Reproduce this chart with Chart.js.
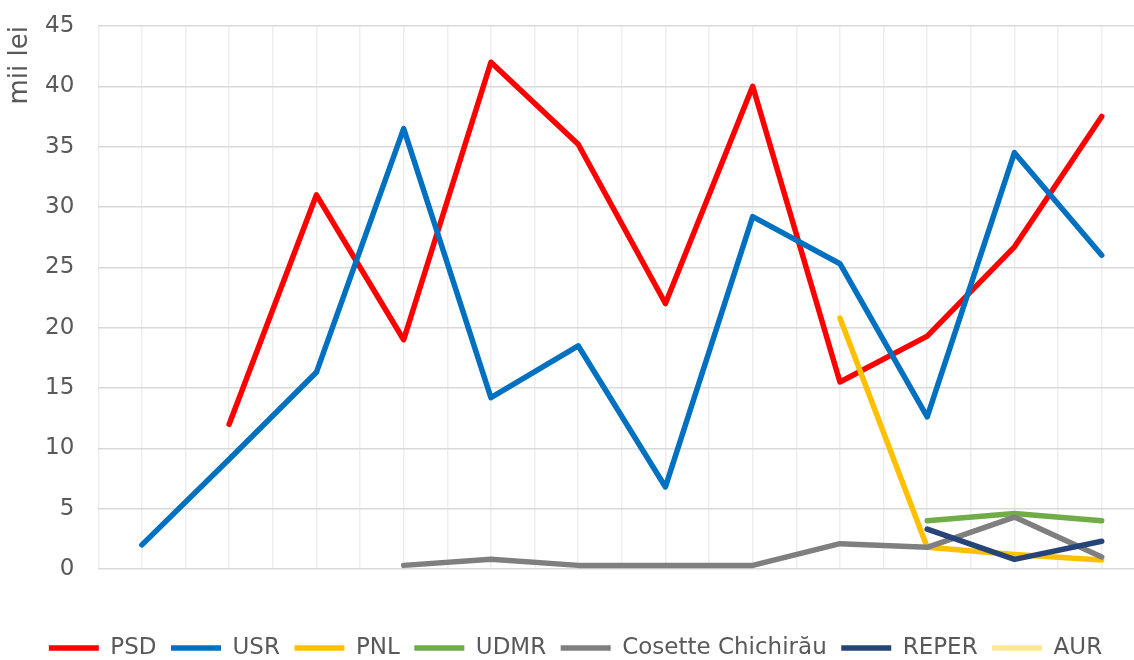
<!DOCTYPE html>
<html>
<head>
<meta charset="utf-8">
<script src="https://cdn.jsdelivr.net/npm/chart.js@4/dist/chart.umd.min.js"></script>
<style>
  html, body { margin: 0; padding: 0; background: #fff; overflow: hidden; }
  #wrap { width: 1134px; height: 660px; }
</style>
</head>
<body>
<div id="wrap"><canvas id="grafic"></canvas></div>
<script>
// ── Date ──────────────────────────────────────
const categorii = [0, 1, 2, 3, 4, 5, 6, 7, 8, 9, 10, 11]
const yTicks    = [0, 5, 10, 15, 20, 25, 30, 35, 40, 45]

const psd     = [null, 12.0, 31.0, 19.0, 42.0, 35.2, 22.0, 40.0, 15.5, 19.3, 26.7, 37.5]
const usr     = [2.0, 9.1, 16.3, 36.5, 14.2, 18.5, 6.8, 29.2, 25.3, 12.6, 34.5, 26.0]
const pnl     = [null, null, null, null, null, null, null, null, 20.8, 1.8, 1.2, 0.75]
const udmr    = [null, null, null, null, null, null, null, null, null, 4.0, 4.6, 4.0]
const cosette = [null, null, null, 0.3, 0.8, 0.3, 0.3, 0.3, 2.1, 1.8, 4.3, 1.0]
const reper   = [null, null, null, null, null, null, null, null, null, 3.3, 0.8, 2.3]
const aur     = [null, null, null, null, null, null, null, null, null, null, null, null]

const serii = [
  { nume: 'PSD', valori: psd, culoare: '#FF0000' },
  { nume: 'USR', valori: usr, culoare: '#0070C0' },
  { nume: 'PNL', valori: pnl, culoare: '#FFC000' },
  { nume: 'UDMR', valori: udmr, culoare: '#70AD47' },
  { nume: 'Cosette Chichirău', valori: cosette, culoare: '#7F7F7F' },
  { nume: 'REPER', valori: reper, culoare: '#264478' },
  { nume: 'AUR', valori: aur, culoare: '#FFE699' }
]

// ── Temă ──────────────────────────────────────
Chart.defaults.color       = '#595959'
Chart.defaults.font.family = "'DejaVu Sans', Verdana, sans-serif"
Chart.defaults.font.size   = 23

const datasets = serii.map((s, i) => ({
  label: s.nume,
  data: categorii.map((c, j) => ({ x: c, y: s.valori[j] })),
  borderColor: s.culoare,
  backgroundColor: s.culoare,
  borderWidth: 5.5,
  borderCapStyle: 'round',
  borderJoinStyle: 'round',
  pointRadius: 0,
  pointHoverRadius: 0,
  tension: 0,
  spanGaps: false,
  order: -i   // seriile de mai tarziu deasupra, ca in Excel
}))

new Chart(document.getElementById('grafic'), {
  type: 'line',
  data: { datasets },
  options: {
    responsive: true,
    maintainAspectRatio: false,
    animation: false,
    layout: { padding: { left: 17, right: 0, top: 26, bottom: 0 } },
    plugins: {
      legend: {
        position: 'bottom',
        maxHeight: 38,
        labels: {
          usePointStyle: true,
          pointStyle: 'line',
          pointStyleWidth: 50,
          padding: 14.5,
          color: '#595959',
          font: { size: 23 },
          sort: (a, b) => a.datasetIndex - b.datasetIndex
        }
      },
      tooltip: { enabled: false }
    },
    scales: {
      x: {
        type: 'linear',
        min: -0.5,
        max: 11.37,
        afterBuildTicks: axis => {
          const t = []
          for (let v = -0.5; v <= 11.01; v += 0.5) t.push({ value: v })
          axis.ticks = t
        },
        afterFit: axis => { axis.height = 53 },
        ticks: { display: false },
        grid: { color: '#EEEEEE', lineWidth: 1.5, drawTicks: false },
        border: { display: false }
      },
      y: {
        min: 0,
        max: 45,
        afterBuildTicks: axis => { axis.ticks = yTicks.map(v => ({ value: v })) },
        // padding-ul etichetelor nu trebuie sa impinga zona graficului in jos
        afterFit: axis => { axis.paddingTop = 0; axis.paddingBottom = 0 },
        ticks: { padding: 24, color: '#595959' },
        grid: { color: '#D9D9D9', lineWidth: 1.5, drawTicks: false },
        border: { display: false },
        title: {
          display: true,
          text: 'mii lei',
          align: 'end',
          color: '#595959',
          font: { size: 26 },
          padding: { top: -12.6, bottom: -14.6 }
        }
      }
    }
  }
})
</script>
</body>
</html>
